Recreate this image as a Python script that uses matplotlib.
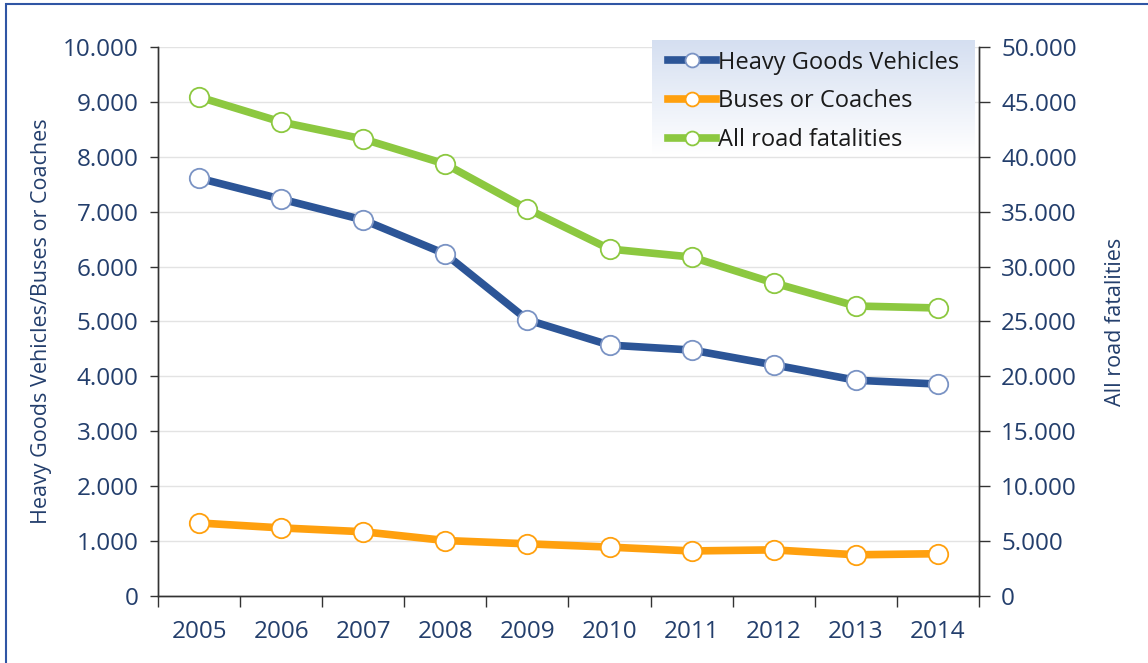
import numpy as np
import matplotlib
matplotlib.use('Agg')
import matplotlib.pyplot as plt
from matplotlib.ticker import FuncFormatter, MultipleLocator
from matplotlib.lines import Line2D
from matplotlib.patches import Rectangle

plt.rcParams['font.family'] = ['Open Sans', 'DejaVu Sans']

years = ['2005', '2006', '2007', '2008', '2009', '2010', '2011', '2012', '2013', '2014']
hgv = [7610, 7230, 6850, 6230, 5030, 4570, 4480, 4210, 3930, 3860]
buses = [1330, 1240, 1170, 1010, 950, 890, 820, 840, 750, 770]
all_road = [45450, 43170, 41620, 39340, 35250, 31600, 30870, 28510, 26410, 26230]

c_hgv = '#2c5597'
c_bus = '#ffa00e'
c_all = '#8cc840'
c_txt = '#233e6c'

def dotfmt(v, pos):
    return '{:,.0f}'.format(v).replace(',', '.')

fig = plt.figure(figsize=(11.48, 6.63), dpi=100)
ax = fig.add_axes([0.1376, 0.1011, 0.7152, 0.828])
ax2 = ax.twinx()

x = np.arange(len(years))
mk = dict(marker='o', markersize=14, markerfacecolor='white', markeredgewidth=1.3, linewidth=5.5)
ax2.plot(x, all_road, color=c_all, markeredgecolor=c_all, zorder=3, **mk)
ax.plot(x, hgv, color=c_hgv, markeredgecolor='#7a93c4', zorder=3, **mk)
ax.plot(x, buses, color=c_bus, markeredgecolor=c_bus, zorder=3, **mk)

ax.set_xlim(-0.5, 9.5)
ax.set_ylim(0, 10000)
ax2.set_ylim(0, 50000)
ax.yaxis.set_major_locator(MultipleLocator(1000))
ax2.yaxis.set_major_locator(MultipleLocator(5000))
ax.yaxis.set_major_formatter(FuncFormatter(dotfmt))
ax2.yaxis.set_major_formatter(FuncFormatter(dotfmt))
ax.grid(axis='y', color='#e3e3e3', linewidth=1)
ax.set_axisbelow(True)

ax.set_xticks(x)
ax.set_xticklabels(years)
ax.set_xticks(np.arange(-0.5, 10, 1), minor=True)
ax.tick_params(axis='x', which='major', length=0, pad=17, labelsize=17.5, labelcolor=c_txt)
ax.tick_params(axis='x', which='minor', length=8, width=1, color='#333333', direction='out')
ax.tick_params(axis='y', length=6, width=1, color='#333333', labelsize=17.5, labelcolor=c_txt, pad=8)
ax2.tick_params(axis='y', length=8, width=1, color='#333333', labelsize=17.5, labelcolor=c_txt, pad=8)

for a in (ax, ax2):
    a.spines['top'].set_visible(False)
    for s in ('left', 'right', 'bottom'):
        a.spines[s].set_color('#333333')
        a.spines[s].set_linewidth(1)

ax.set_ylabel('Heavy Goods Vehicles/Buses or Coaches', fontsize=15.5, color=c_txt, labelpad=8)
ax2.set_ylabel('All road fatalities', fontsize=15.5, color=c_txt, labelpad=20)

# legend gradient background
lax = fig.add_axes([0.568, 0.766, 0.281, 0.173])
grad = np.linspace(0, 1, 100)[:, None]
top = np.array([0.835, 0.875, 0.945])
img = top[None, None, :] * (1 - grad[..., None]) + grad[..., None] * np.array([1, 1, 1])[None, None, :]
lax.imshow(img, aspect='auto', extent=[0, 1, 0, 1])
lax.set_axis_off()

lmk = dict(mk, markersize=10)
handles = [
    Line2D([], [], color=c_hgv, markeredgecolor='#7a93c4', **lmk),
    Line2D([], [], color=c_bus, markeredgecolor=c_bus, **lmk),
    Line2D([], [], color=c_all, markeredgecolor=c_all, **lmk),
]
fig.legend(handles, ['Heavy Goods Vehicles', 'Buses or Coaches', 'All road fatalities'],
           loc='upper left', bbox_to_anchor=(0.574, 0.938), frameon=False,
           fontsize=17, handlelength=2.0, handletextpad=0.1, labelspacing=0.62,
           borderaxespad=0, labelcolor='#1a1a1a')

# outer border (left and top visible)
fig.patches.append(Rectangle((6 / 1148, -0.1), 1.2, 1.1 - 4 / 663, transform=fig.transFigure,
                             fill=False, edgecolor='#2f55a4', linewidth=1.5))

fig.savefig('out.png', dpi=100)
